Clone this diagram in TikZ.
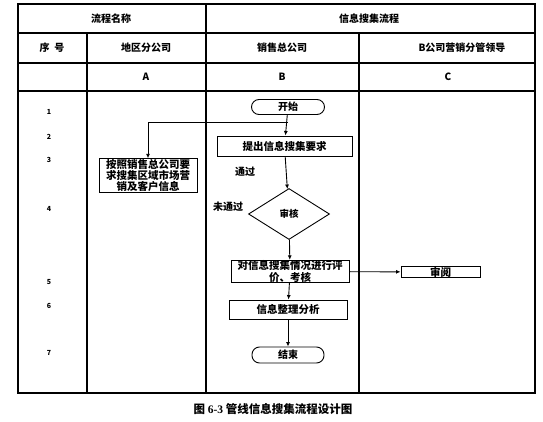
\documentclass[tikz,border=0pt]{standalone}
\usepackage{fontspec}
\setmainfont{Liberation Serif}
\newfontfamily\cjk{Noto Sans CJK SC}
\usepackage{tikz}
\usetikzlibrary{shapes.geometric, arrows.meta}
\tikzset{
  grid/.style={line width=1.3pt},
  hdr/.style={font=\cjk\bfseries\fontsize{10}{10}\selectfont},
  rownum/.style={font=\cjk\bfseries\fontsize{7}{7}\selectfont},
  proc/.style={rectangle, draw, line width=0.9pt, inner sep=0.5pt,
    align=center, font=\cjk\bfseries\fontsize{10.5}{10}\selectfont},
  term/.style={rectangle, draw, line width=0.9pt, rounded corners=7.5pt,
    inner sep=0pt, font=\cjk\bfseries\fontsize{10}{10}\selectfont},
  check/.style={diamond, draw, line width=0.9pt, inner sep=0pt,
    minimum width=81pt, minimum height=51pt,
    font=\cjk\bfseries\fontsize{9.5}{10}\selectfont},
  note/.style={font=\cjk\bfseries\fontsize{10}{10}\selectfont},
  arrow/.style={-{Latex[length=4.5pt,width=4pt]}, line width=0.9pt}
}
\begin{document}
\begin{tikzpicture}[x=1pt, y=-1pt]
  \useasboundingbox (0,0) rectangle (543,422);

  % Table
  \draw[grid] (18,4) rectangle (535,393);
  \draw[grid] (18,33) -- (535,33);
  \draw[grid] (18,63) -- (535,63);
  \draw[grid] (18,91) -- (535,91);
  \draw[grid] (87,33) -- (87,393);
  \draw[grid] (206,4) -- (206,393);
  \draw[grid] (359,33) -- (359,393);

  % Headers
  \node[hdr] (hname) at (111,18.5) {流程名称};
  \node[hdr] (hflow) at (369,18.5) {信息搜集流程};
  \node[hdr] (hno) at (52,48) {序\ \ 号};
  \node[hdr] (hcolA) at (146,48) {地区分公司};
  \node[hdr] (hcolB) at (282,48) {销售总公司};
  \node[hdr] (hcolC) at (462,48) {B公司营销分管领导};
  \node[hdr] (lA) at (146,77) {A};
  \node[hdr] (lB) at (282,77) {B};
  \node[hdr] (lC) at (448,77) {C};

  % Row numbers
  \foreach \n/\y in {1/112, 2/137, 3/160, 4/209, 5/282, 6/306, 7/353}
    \node[rownum] (row\n) at (49,\y) {\n};

  % Flow nodes
  \node[term, minimum width=73pt, minimum height=15pt] (start) at (288,107) {开始};
  \node[proc, minimum width=135pt, minimum height=20pt] (req) at (284.5,146) {提出信息搜集要求};
  \node[proc, text width=97pt, minimum height=31pt] (area) at (148,175.5)
    {按照销售总公司要\\求搜集区域市场营\\销及客户信息};
  \node[check] (chk) at (289,214) {审核};
  \node[proc, text width=117pt, minimum height=21pt] (eval) at (290,271.5)
    {对信息搜集情况进行评\\价、考核};
  \node[proc, minimum width=79pt, minimum height=11pt] (read) at (440.5,272) {审阅};
  \node[proc, minimum width=118pt, minimum height=19pt] (tidy) at (288,309.5) {信息整理分析};
  \node[term, minimum width=72pt, minimum height=16pt] (stop) at (288,355) {结束};

  % Labels
  \node[note] (pass) at (245,172) {通过};
  \node[note] (fail) at (228,207) {未通过};

  % Connectors
  \draw[arrow] (start) -- (req);
  \draw[arrow] (start.south) ++(0,7.5) -| (area.north);
  \draw[arrow] (req) -- (chk);
  \draw[arrow] (chk) -- (eval);
  \draw[arrow] (eval) -- (read);
  \draw[arrow] (eval) -- (tidy);
  \draw[arrow] (tidy) -- (stop);

  % Caption
  \node (caption) at (273,409)
    {\cjk\bfseries\fontsize{11.5}{12}\selectfont 图 {\rmfamily\bfseries 6-3} 管线信息搜集流程设计图};
\end{tikzpicture}
\end{document}
